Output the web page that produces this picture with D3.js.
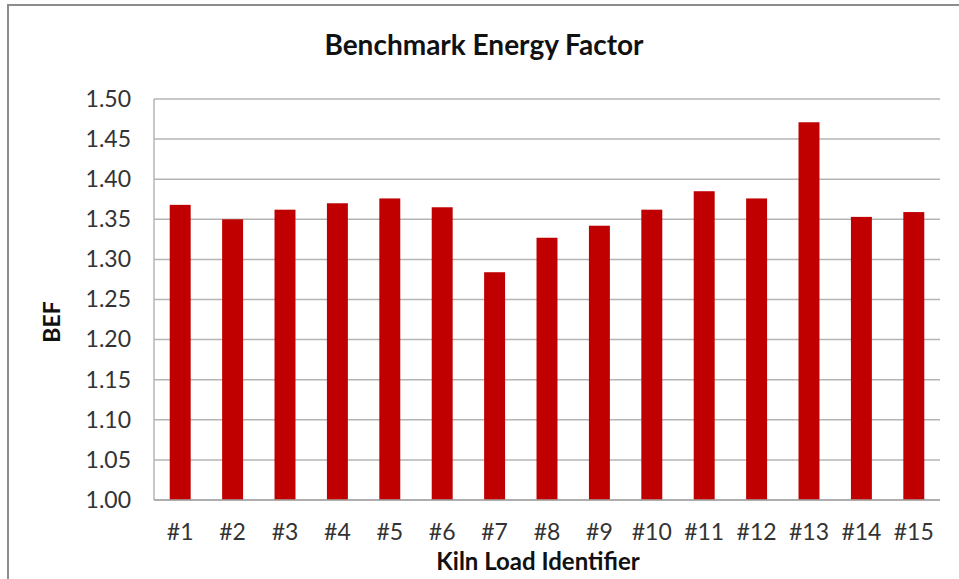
<!DOCTYPE html>
<html>
<head>
<meta charset="utf-8">
<script src="https://cdn.jsdelivr.net/npm/d3@7/dist/d3.min.js"></script>
<style>
  html, body { margin: 0; padding: 0; background: #fff; }
  svg { display: block; }
  text { font-family: Lato, "Open Sans", sans-serif; }
</style>
</head>
<body>
<script>
// Benchmark Energy Factor per kiln load
const loads = ["#1","#2","#3","#4","#5","#6","#7","#8","#9","#10","#11","#12","#13","#14","#15"];
const bef = [1.368, 1.350, 1.362, 1.370, 1.376, 1.365, 1.284, 1.327, 1.342, 1.362, 1.385, 1.376, 1.471, 1.353, 1.359];
const yTicks = [1.00, 1.05, 1.10, 1.15, 1.20, 1.25, 1.30, 1.35, 1.40, 1.45, 1.50];

const W = 959, H = 579;
const plot = { left: 154, right: 940, top: 99, bottom: 500 };

const svg = d3.select("body").append("svg")
  .attr("width", W).attr("height", H);

// outer frame (top and left edges)
svg.append("line").attr("x1", 7).attr("x2", W).attr("y1", 5).attr("y2", 5)
  .attr("stroke", "#8c8c8c").attr("stroke-width", 2);
svg.append("line").attr("x1", 8).attr("x2", 8).attr("y1", 4).attr("y2", H)
  .attr("stroke", "#8c8c8c").attr("stroke-width", 2);

const x = d3.scaleBand().domain(loads).range([plot.left, plot.right]).paddingInner(0.6).paddingOuter(0.3);
const y = d3.scaleLinear().domain([1.0, 1.5]).range([plot.bottom, plot.top]);

// gridlines
svg.append("g").selectAll("line").data(yTicks).join("line")
  .attr("x1", plot.left).attr("x2", plot.right)
  .attr("y1", d => y(d)).attr("y2", d => y(d))
  .attr("stroke", "#b4b4b4").attr("stroke-width", 1.5);

// bars
svg.append("g").selectAll("rect").data(bef).join("rect")
  .attr("x", (d, i) => x(loads[i]))
  .attr("width", x.bandwidth())
  .attr("y", d => y(d))
  .attr("height", d => y(1.0) - y(d))
  .attr("fill", "#c00000");

// axis lines
svg.append("line").attr("x1", plot.left).attr("x2", plot.left)
  .attr("y1", plot.top).attr("y2", plot.bottom)
  .attr("stroke", "#b4b4b4").attr("stroke-width", 1.5);
svg.append("line").attr("x1", plot.left).attr("x2", plot.right)
  .attr("y1", plot.bottom).attr("y2", plot.bottom)
  .attr("stroke", "#a6a6a6").attr("stroke-width", 1.5);

// y axis tick labels
const yAxis = d3.axisLeft(y).tickValues(yTicks).tickFormat(d3.format(".2f")).tickSize(0).tickPadding(23);
const gy = svg.append("g").attr("transform", `translate(${plot.left},0)`).call(yAxis);
gy.select(".domain").remove();
gy.selectAll("text").attr("font-size", 23).attr("fill", "#333")
  .style("font-family", "Lato, 'Open Sans', sans-serif");

// x axis tick labels
const xAxis = d3.axisBottom(x).tickSize(0).tickPadding(24);
const gx = svg.append("g").attr("transform", `translate(0,${plot.bottom})`).call(xAxis);
gx.select(".domain").remove();
gx.selectAll("text").attr("font-size", 23).attr("fill", "#333")
  .style("font-family", "Lato, 'Open Sans', sans-serif");

// title and axis titles
svg.append("text").attr("x", 484).attr("y", 55).attr("text-anchor", "middle")
  .attr("font-size", 28).attr("font-weight", "bold").attr("fill", "#111")
  .text("Benchmark Energy Factor");
svg.append("text").attr("x", 538).attr("y", 570).attr("text-anchor", "middle")
  .attr("font-size", 24).attr("font-weight", "bold").attr("fill", "#111")
  .text("Kiln Load Identifier");
svg.append("text").attr("transform", "translate(60,322) rotate(-90)").attr("text-anchor", "middle")
  .attr("font-size", 23).attr("font-weight", "bold").attr("fill", "#111")
  .text("BEF");
</script>
</body>
</html>
